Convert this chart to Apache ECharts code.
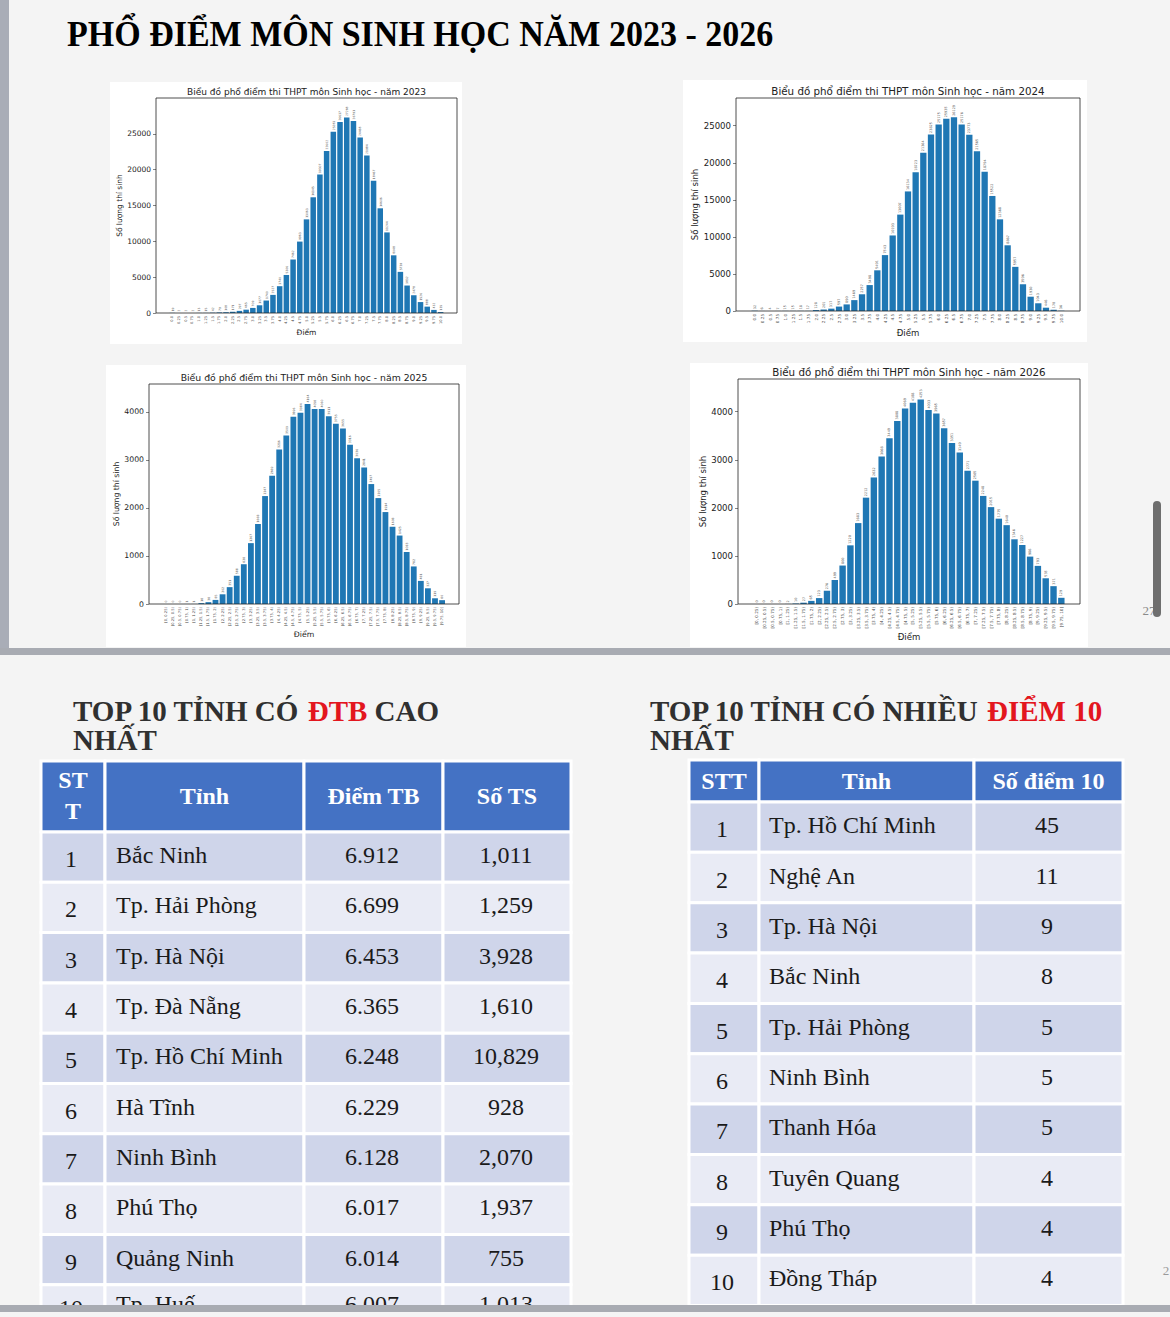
<!DOCTYPE html>
<html>
<head>
<meta charset="utf-8">
<title>Phổ điểm môn Sinh học 2023 - 2026</title>
<script src="https://cdn.jsdelivr.net/npm/echarts@6/dist/echarts.min.js"></script>
<style>
  html, body { margin: 0; padding: 0; background: #f4f4f4; }
  #main { width: 1170px; height: 1317px; }
</style>
</head>
<body>
<div id="main"></div>
<script>
// score bins (2023, 2024)
const scorePoints = ['0.0','0.25','0.5','0.75','1.0','1.25','1.5','1.75','2.0','2.25','2.5','2.75','3.0','3.25','3.5','3.75',
  '4.0','4.25','4.5','4.75','5.0','5.25','5.5','5.75','6.0','6.25','6.5','6.75','7.0','7.25','7.5','7.75',
  '8.0','8.25','8.5','8.75','9.0','9.25','9.5','9.75','10.0'];
// score ranges (2025, 2026)
const scoreRanges = ['[0, 0.25)','[0.25, 0.5)','[0.5, 0.75)','[0.75, 1)','[1, 1.25)','[1.25, 1.5)','[1.5, 1.75)','[1.75, 2)',
  '[2, 2.25)','[2.25, 2.5)','[2.5, 2.75)','[2.75, 3)','[3, 3.25)','[3.25, 3.5)','[3.5, 3.75)','[3.75, 4)',
  '[4, 4.25)','[4.25, 4.5)','[4.5, 4.75)','[4.75, 5)','[5, 5.25)','[5.25, 5.5)','[5.5, 5.75)','[5.75, 6)',
  '[6, 6.25)','[6.25, 6.5)','[6.5, 6.75)','[6.75, 7)','[7, 7.25)','[7.25, 7.5)','[7.5, 7.75)','[7.75, 8)',
  '[8, 8.25)','[8.25, 8.5)','[8.5, 8.75)','[8.75, 9)','[9, 9.25)','[9.25, 9.5)','[9.5, 9.75)','[9.75, 10]'];

const count2023 = [19, 2, 2, 2, 13, 15, 42, 79, 108, 171, 297, 465, 709, 1077, 1740, 2527, 3740, 5306, 7462, 9963,
  13063, 16145, 19307, 22602, 25283, 26637, 27268, 26791, 24468, 21984, 18467, 14606, 11244, 8048, 5739, 3832,
  2478, 1526, 888, 432, 135];
const count2024 = [32, 6, 4, 7, 15, 15, 18, 17, 128, 201, 317, 597, 890, 1469, 2257, 3498, 5491, 7543, 10193, 13007,
  16134, 18723, 21364, 23825, 25175, 25935, 26129, 25176, 23773, 21565, 18794, 15522, 12368, 8867, 5957, 3596,
  1930, 1043, 446, 170, 36];
const count2025 = [0, 0, 0, 1, 1, 18, 38, 85, 202, 351, 588, 828, 1267, 1668, 2247, 2669, 3216, 3509, 3896, 3984,
  4164, 4058, 4060, 3911, 3755, 3655, 3316, 3036, 2841, 2497, 2205, 1914, 1608, 1425, 1083, 782, 481, 327, 119, 80];
const count2026 = [0, 0, 0, 0, 2, 10, 27, 65, 123, 276, 499, 800, 1220, 1683, 2212, 2632, 3068, 3449, 3808, 4069,
  4188, 4253, 4033, 3965, 3657, 3351, 3149, 2771, 2565, 2248, 2015, 1775, 1640, 1346, 1227, 986, 793, 535, 371, 129];

const yTicksBig = [0, 5000, 10000, 15000, 20000, 25000];
const yTicksSmall = [0, 1000, 2000, 3000, 4000];

// tables
const avgRank = ['1', '2', '3', '4', '5', '6', '7', '8', '9', '10'];
const avgProvince = ['Bắc Ninh', 'Tp. Hải Phòng', 'Tp. Hà Nội', 'Tp. Đà Nẵng', 'Tp. Hồ Chí Minh', 'Hà Tĩnh',
  'Ninh Bình', 'Phú Thọ', 'Quảng Ninh', 'Tp. Huế'];
const avgScore = ['6.912', '6.699', '6.453', '6.365', '6.248', '6.229', '6.128', '6.017', '6.014', '6.007'];
const avgCandidates = ['1,011', '1,259', '3,928', '1,610', '10,829', '928', '2,070', '1,937', '755', '1,013'];

const tenRank = ['1', '2', '3', '4', '5', '6', '7', '8', '9', '10'];
const tenProvince = ['Tp. Hồ Chí Minh', 'Nghệ An', 'Tp. Hà Nội', 'Bắc Ninh', 'Tp. Hải Phòng', 'Ninh Bình',
  'Thanh Hóa', 'Tuyên Quang', 'Phú Thọ', 'Đồng Tháp'];
const tenCount = ['45', '11', '9', '8', '5', '5', '5', '4', '4', '4'];

// layout of the four pasted chart images
const panels = [
  { year: '2023', cats: scorePoints, vals: count2023, ticks: yTicksBig, yMax: 29995, s: 1.0, gap: 32,
    box: [110, 82, 462, 344], frame: [156, 98, 457, 313] },
  { year: '2024', cats: scorePoints, vals: count2024, ticks: yTicksBig, yMax: 28740, s: 1.14, gap: 36,
    box: [683, 80, 1087, 342], frame: [736, 98, 1080, 311] },
  { year: '2025', cats: scoreRanges, vals: count2025, ticks: yTicksSmall, yMax: 4580, s: 1.03, gap: 28,
    box: [106, 365, 466, 647], frame: [149, 384, 459, 604] },
  { year: '2026', cats: scoreRanges, vals: count2026, ticks: yTicksSmall, yMax: 4680, s: 1.14, gap: 31,
    box: [690, 363, 1088, 647], frame: [738, 379, 1080, 604] }
];

const W = 1170, H = 1317;
const serif = '"Liberation Serif", "Times New Roman", serif';
const sans = '"DejaVu Sans", sans-serif';

const grids = [], xAxes = [], yAxes = [], series = [], graphics = [];

// page background pieces
graphics.push(
  { type: 'rect', z: -10, shape: { x: 0, y: 0, width: W, height: H }, style: { fill: '#f4f4f4' } },
  { type: 'rect', z: -9, shape: { x: 0, y: 0, width: 9, height: 648 }, style: { fill: '#a9adb7' } },
  { type: 'text', z: 5, x: 67, y: 34, scaleY: 1.08, style: { text: 'PHỔ ĐIỂM MÔN SINH HỌC NĂM 2023 - 2026', x: 0, y: 0,
      font: 'bold 34px ' + serif, fill: '#000', textVerticalAlign: 'middle' } }
);

panels.forEach((p, i) => {
  const [fl, ft, fr, fb] = p.frame;
  const n = p.cats.length;
  // matplotlib-like padding: bar width 0.8 plus 5% margins
  const unit = (fr - fl) / ((n - 0.2) * 1.1);
  const inset = (0.4 + 0.05 * (n - 0.2) - 0.5) * unit;

  graphics.push({ type: 'rect', z: -8, shape: { x: p.box[0], y: p.box[1], width: p.box[2] - p.box[0], height: p.box[3] - p.box[1] },
    style: { fill: '#ffffff' } });
  graphics.push({ type: 'rect', z: 50, shape: { x: fl, y: ft, width: fr - fl, height: fb - ft },
    style: { fill: null, stroke: '#222', lineWidth: 0.8 } });
  graphics.push({ type: 'text', z: 50, style: { text: 'Biểu đồ phổ điểm thi THPT môn Sinh học - năm ' + p.year,
    x: (fl + fr) / 2, y: ft - 6 * p.s, font: (9 * p.s).toFixed(1) + 'px ' + sans, fill: '#222',
    textAlign: 'center', textVerticalAlign: 'middle' } });

  grids.push({ left: fl + inset, right: W - (fr - inset), top: ft, bottom: H - fb, containLabel: false });
  xAxes.push({
    type: 'category', gridIndex: i, data: p.cats,
    name: 'Điểm', nameLocation: 'middle', nameGap: 15 * p.s,
    nameTextStyle: { fontFamily: sans, fontSize: 7.5 * p.s, color: '#222' },
    axisLine: { show: false },
    axisTick: { alignWithLabel: true, length: 2.5, lineStyle: { color: '#333', width: 0.6 } },
    axisLabel: { rotate: 90, interval: 0, fontSize: 3.6 * p.s, fontFamily: sans, color: '#444', margin: 3 }
  });
  yAxes.push({
    type: 'value', gridIndex: i, min: 0, max: p.yMax, offset: inset,
    name: 'Số lượng thí sinh', nameLocation: 'middle', nameGap: p.gap,
    nameTextStyle: { fontFamily: sans, fontSize: 7.5 * p.s, color: '#222' },
    splitLine: { show: false },
    axisLine: { show: false },
    axisTick: { show: true, length: 3, customValues: p.ticks, lineStyle: { color: '#333', width: 0.6 } },
    axisLabel: { customValues: p.ticks, formatter: v => String(v), fontSize: 7.5 * p.s, fontFamily: sans,
      color: '#222', margin: 5 }
  });
  series.push({
    type: 'bar', xAxisIndex: i, yAxisIndex: i, data: p.vals,
    barCategoryGap: '18%',
    itemStyle: { color: '#1f77b4' },
    label: { show: true, position: 'top', rotate: 90, align: 'left', verticalAlign: 'middle', distance: 1.5,
      fontSize: 3 * p.s, fontFamily: sans, color: '#555' },
    emphasis: { disabled: true }
  });
});

// ---- tables ----
const bodyFont = '24px ' + serif;
const headFont = 'bold 24px ' + serif;
const blue = '#4472c4', rowDark = '#cfd5ea', rowLight = '#e9ebf5';

function cell(x0, y0, x1, y1, fill) {
  return { type: 'rect', z: 1, shape: { x: x0, y: y0, width: x1 - x0, height: y1 - y0 },
    style: { fill: fill, stroke: '#ffffff', lineWidth: 3 } };
}
function txt(s, x, y, font, fill, align) {
  return { type: 'text', z: 2, style: { text: s, x: x, y: y, font: font, fill: fill,
    textAlign: align || 'center', textVerticalAlign: 'middle' } };
}

// section headings
const headingRich = {
  a: { font: 'bold 29px ' + serif, fill: '#303030', color: '#303030', lineHeight: 29 },
  r: { font: 'bold 29px ' + serif, fill: '#e3161e', color: '#e3161e', lineHeight: 29 }
};
graphics.push({ type: 'text', z: 2, style: {
  text: '{a|TOP 10 TỈNH CÓ }{r|ĐTB}{a| CAO}\n{a|NHẤT}', x: 73, y: 696, rich: headingRich } });
graphics.push({ type: 'text', z: 2, style: {
  text: '{a|TOP 10 TỈNH CÓ NHIỀU }{r|ĐIỂM 10}\n{a|NHẤT}', x: 650, y: 696, rich: headingRich } });

// left table: average score
const lc = [41, 105, 304, 443, 571];
const lHeadTop = 761, lHeadBot = 832, lRowH = 50.3;
for (let c = 0; c < 4; c++) graphics.push(cell(lc[c], lHeadTop, lc[c + 1], lHeadBot, blue));
graphics.push(txt('ST', (lc[0] + lc[1]) / 2, 780, headFont, '#fff'));
graphics.push(txt('T', (lc[0] + lc[1]) / 2, 811, headFont, '#fff'));
graphics.push(txt('Tỉnh', (lc[1] + lc[2]) / 2, 796, headFont, '#fff'));
graphics.push(txt('Điểm TB', (lc[2] + lc[3]) / 2, 796, headFont, '#fff'));
graphics.push(txt('Số TS', (lc[3] + lc[4]) / 2, 796, headFont, '#fff'));
avgRank.forEach((r, k) => {
  const y0 = lHeadBot + k * lRowH, y1 = y0 + lRowH, cy = (y0 + y1) / 2;
  const fill = k % 2 === 0 ? rowDark : rowLight;
  // last row is partly hidden under the slide separator, as in the screenshot
  const lift = k === avgRank.length - 1 ? 4 : 0;
  for (let c = 0; c < 4; c++) graphics.push(cell(lc[c], y0, lc[c + 1], y1, fill));
  graphics.push(txt(r, 71, cy + 2 - lift, bodyFont, '#1a1a1a'));
  graphics.push(txt(avgProvince[k], 116, cy - 2 - lift, bodyFont, '#1a1a1a', 'left'));
  graphics.push(txt(avgScore[k], 372, cy - 2 - lift, bodyFont, '#1a1a1a'));
  graphics.push(txt(avgCandidates[k], 506, cy - 2 - lift, bodyFont, '#1a1a1a'));
});

// right table: number of 10s
const rc = [689, 759, 974, 1123];
const rHeadTop = 760, rHeadBot = 802, rRowH = 50.35;
for (let c = 0; c < 3; c++) graphics.push(cell(rc[c], rHeadTop, rc[c + 1], rHeadBot, blue));
graphics.push(txt('STT', (rc[0] + rc[1]) / 2, 781, headFont, '#fff'));
graphics.push(txt('Tỉnh', (rc[1] + rc[2]) / 2, 781, headFont, '#fff'));
graphics.push(txt('Số điểm 10', (rc[2] + rc[3]) / 2, 781, headFont, '#fff'));
tenRank.forEach((r, k) => {
  const y0 = rHeadBot + k * rRowH, y1 = y0 + rRowH, cy = (y0 + y1) / 2;
  const fill = k % 2 === 0 ? rowDark : rowLight;
  for (let c = 0; c < 3; c++) graphics.push(cell(rc[c], y0, rc[c + 1], y1, fill));
  graphics.push(txt(r, 722, cy + 2, bodyFont, '#1a1a1a'));
  graphics.push(txt(tenProvince[k], 769, cy - 2, bodyFont, '#1a1a1a', 'left'));
  graphics.push(txt(tenCount[k], 1047, cy - 2, bodyFont, '#1a1a1a'));
});

// slide separators, scrollbar, page numbers
graphics.push(
  { type: 'rect', z: 60, shape: { x: 0, y: 648, width: W, height: 7 }, style: { fill: '#a8abb2' } },
  { type: 'rect', z: 60, shape: { x: 0, y: 1305, width: W, height: 7 }, style: { fill: '#a8abb2' } },
  { type: 'rect', z: 60, shape: { x: 0, y: 1312, width: W, height: 5 }, style: { fill: '#f4f4f4' } },
  { type: 'rect', z: 60, shape: { x: 1153, y: 501, width: 8, height: 116, r: 4 }, style: { fill: '#6e6e6e' } },
  txt('27', 1149, 610, '13px ' + serif, '#8a8a8a'),
  txt('2', 1166, 1270, '13px ' + serif, '#9a9a9a')
);

const chart = echarts.init(document.getElementById('main'), null, { renderer: 'svg' });
chart.setOption({
  animation: false,
  grid: grids,
  xAxis: xAxes,
  yAxis: yAxes,
  series: series,
  graphic: { elements: graphics }
});
</script>
</body>
</html>
